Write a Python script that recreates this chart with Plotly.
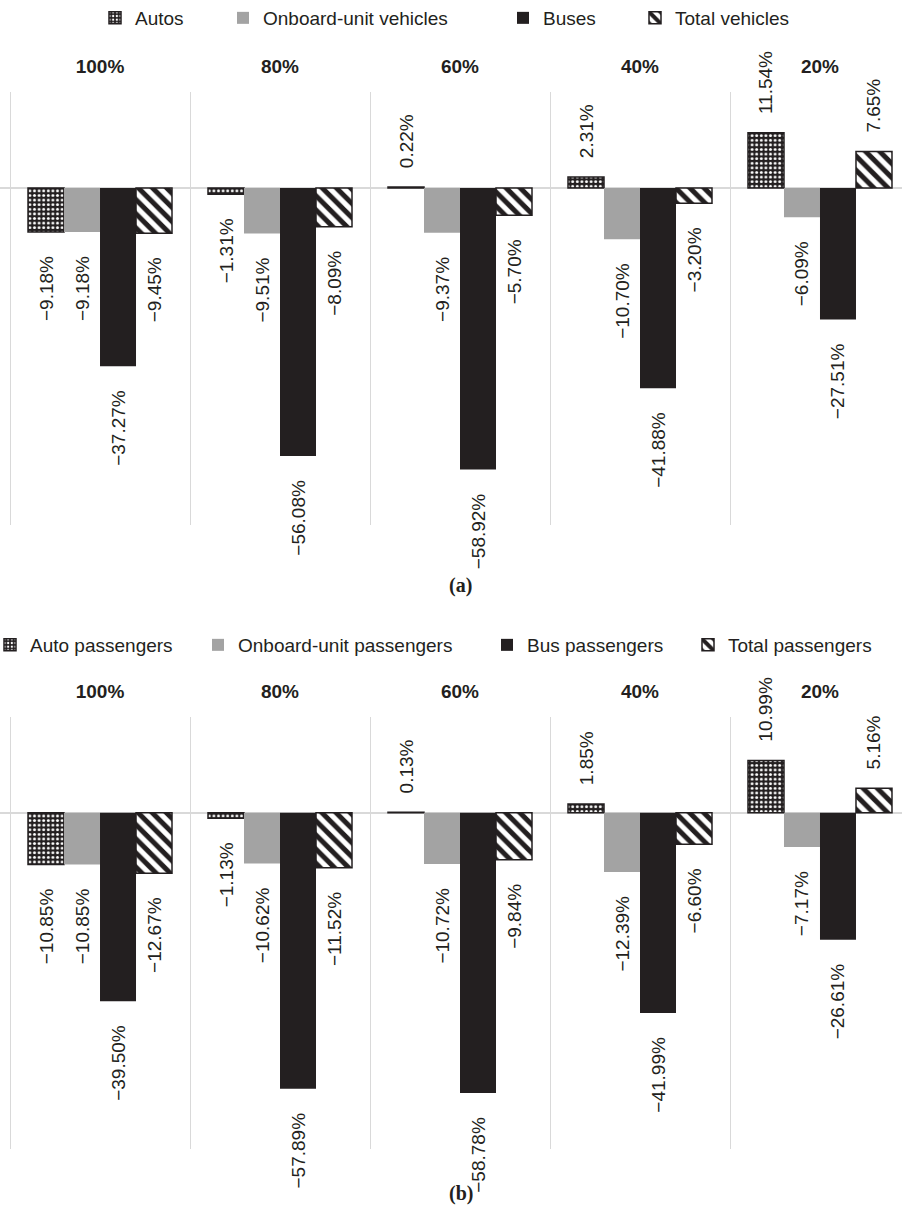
import plotly.graph_objects as go

categories = ["100%", "80%", "60%", "40%", "20%"]

# Panel (a): vehicles
autos = [-9.18, -1.31, 0.22, 2.31, 11.54]
onboard_veh = [-9.18, -9.51, -9.37, -10.70, -6.09]
buses = [-37.27, -56.08, -58.92, -41.88, -27.51]
total_veh = [-9.45, -8.09, -5.70, -3.20, 7.65]

# Panel (b): passengers
auto_pass = [-10.85, -1.13, 0.13, 1.85, 10.99]
onboard_pass = [-10.85, -10.62, -10.72, -12.39, -7.17]
bus_pass = [-39.50, -57.89, -58.78, -41.99, -26.61]
total_pass = [-12.67, -11.52, -9.84, -6.60, 5.16]

names_a = ["Autos", "Onboard-unit vehicles", "Buses", "Total vehicles"]
names_b = ["Auto passengers", "Onboard-unit passengers", "Bus passengers", "Total passengers"]

INK = "#231f20"
GRAY = "#a3a3a3"
GRID = "#d9d9d9"
FONT = "Liberation Sans, Arial, sans-serif"
NB = "\u00a0"
W, H = 902, 1218


def fmt(v):
    s = f"{abs(v):.2f}%"
    if v < 0:
        return "\u2212" + s + NB * 4
    return NB * 3 + s


styles = [
    dict(color=INK, line=dict(color=INK, width=1.5),
         pattern=dict(shape=".", fgcolor="#ffffff", bgcolor=INK, fgopacity=1,
                      size=4.6, solidity=0.32, fillmode="replace")),
    dict(color=GRAY, line=dict(width=0)),
    dict(color=INK, line=dict(width=0)),
    dict(color="white", line=dict(color=INK, width=1.5),
         pattern=dict(shape="\\", fgcolor=INK, bgcolor="#ffffff", fgopacity=1,
                      size=10, solidity=0.5, fillmode="replace")),
]

# legend item layout (pixel positions of swatch left edge, legend row centre)
legend_x_a = [115, 243, 523, 655]
legend_x_b = [10, 218, 507, 708]
legend_y_a = 18
legend_y_b = 645

fig = go.Figure()

label_font = dict(family=FONT, size=19, color=INK)
legends = {}
counter = [0]


def add_panel(series, names, xa, ya, lx, ly):
    for vals, name, st, px in zip(series, names, styles, lx):
        counter[0] += 1
        key = "legend" if counter[0] == 1 else f"legend{counter[0]}"
        legends[key] = dict(
            x=(px - 20) / W, y=1 - ly / H, xanchor="left", yanchor="middle",
            orientation="h", bgcolor="rgba(0,0,0,0)", borderwidth=0,
            font=dict(family=FONT, size=19, color=INK), itemwidth=30,
        )
        fig.add_trace(go.Bar(
            x=categories, y=vals, name=name,
            marker=st,
            text=[fmt(v) for v in vals],
            textposition="outside", textangle=-90,
            textfont=label_font, outsidetextfont=label_font,
            constraintext="none",
            cliponaxis=False,
            xaxis=xa, yaxis=ya, legend=key,
            hoverinfo="skip",
        ))


add_panel([autos, onboard_veh, buses, total_veh], names_a, "x", "y", legend_x_a, legend_y_a)
add_panel([auto_pass, onboard_pass, bus_pass, total_pass], names_b, "x2", "y2", legend_x_b, legend_y_b)

xaxis_common = dict(
    type="category", side="top", tickson="boundaries",
    showgrid=True, gridcolor=GRID, gridwidth=1,
    ticks="", ticklabelstandoff=14,
    tickfont=dict(family=FONT, size=19, color=INK, weight="bold"),
    range=[-0.5556, 4.4556], showline=False, zeroline=False, fixedrange=True,
)
yaxis_common = dict(
    range=[-70.5, 20.1], showticklabels=False, showgrid=False,
    zeroline=True, zerolinecolor=GRID, zerolinewidth=1.5, showline=False, fixedrange=True,
)

fig.update_layout(
    width=W, height=H,
    margin=dict(l=0, r=0, t=0, b=0, autoexpand=False),
    paper_bgcolor="white", plot_bgcolor="white",
    barmode="group", bargap=0.2, bargroupgap=0,
    uniformtext=dict(minsize=19, mode="show"),
    xaxis=dict(**xaxis_common, domain=[0, 1], anchor="y"),
    yaxis=dict(**yaxis_common, domain=[0.569, 0.9245], anchor="x"),
    xaxis2=dict(**xaxis_common, domain=[0, 1], anchor="y2"),
    yaxis2=dict(**yaxis_common, domain=[0.0567, 0.4113], anchor="x2"),
    showlegend=True,
    annotations=[
        dict(text="<b>(a)</b>", x=0.511, y=0.5197, xref="paper", yref="paper",
             showarrow=False, font=dict(family="Liberation Serif, Times New Roman, serif", size=20, color=INK)),
        dict(text="<b>(b)</b>", x=0.511, y=0.0090, xref="paper", yref="paper",
             showarrow=False, font=dict(family="Liberation Serif, Times New Roman, serif", size=20, color=INK)),
    ],
    **legends,
)

fig.write_html("out.html")
